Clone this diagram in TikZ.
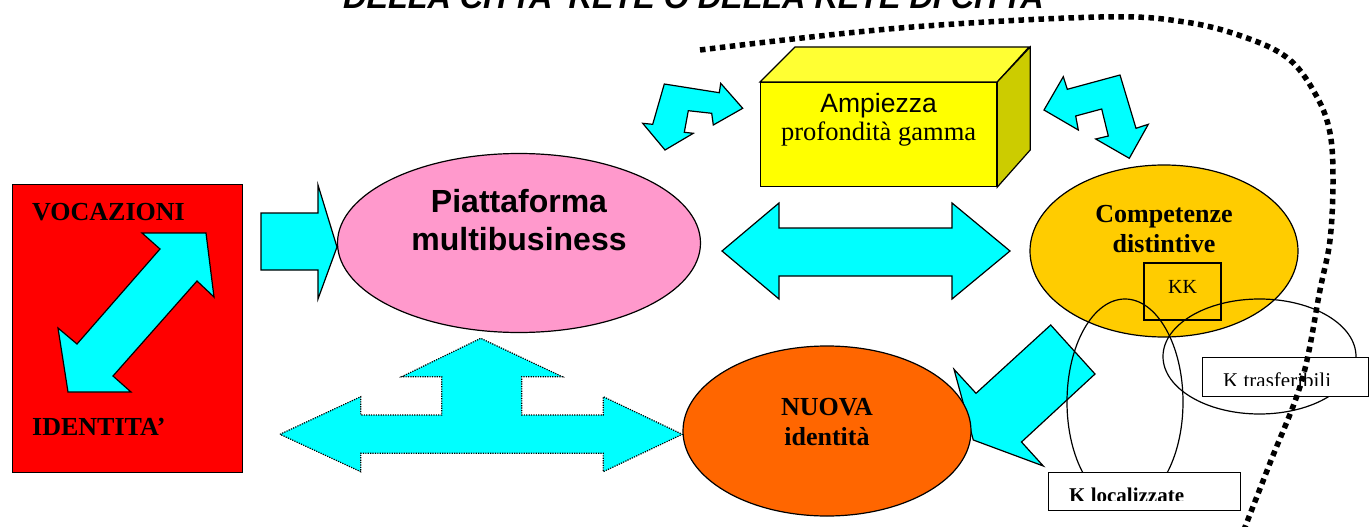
\documentclass[tikz,border=0pt]{standalone}
\usepackage{fontspec}
\setmainfont{Liberation Serif}
\setsansfont{Liberation Sans}
\usetikzlibrary{shapes.geometric}

\definecolor{ciano}{HTML}{00FFFF}
\definecolor{rosa}{HTML}{FF99CC}
\definecolor{oro}{HTML}{FFCC00}
\definecolor{arancio}{HTML}{FF6600}
\definecolor{giallo}{HTML}{FFFF00}
\definecolor{giallochiaro}{HTML}{FFFF33}
\definecolor{giallocupo}{HTML}{CCCC00}

\tikzset{
  freccia/.style={fill=ciano, draw=black, line width=1.2pt},
  bolla/.style={ellipse, draw=black, line width=1.2pt, inner sep=0pt},
  scritta/.style={align=center, inner sep=0pt, font=\fontsize{26}{30}\selectfont\bfseries},
  kbox/.style={draw=black, line width=1.2pt, fill=white, inner sep=0pt, anchor=north west},
}

\begin{document}
\begin{tikzpicture}[x=1pt, y=-1pt]
  % 绘制边界
  \clip (0,0) rectangle (1369,527);
  \fill[white] (0,0) rectangle (1369,527);
  % 绘制标题
  \node[anchor=base, inner sep=0pt, font=\fontsize{32.3}{36}\selectfont\sffamily\bfseries\itshape] (titolo) at (697,9) {DELLA CITTA' RETE O DELLA RETE DI CITTA'};
  % 绘制红色方块
  \node[draw=black, fill=red, line width=1.2pt, minimum width=230, minimum height=288, inner sep=0pt, anchor=north west] (vocaz) at (12,184) {};
  \node[scritta, anchor=base west] (voc) at (32,220) {VOCAZIONI};
  \node[scritta, anchor=base west] (ident) at (32,435) {IDENTITA'};
  \draw[freccia] (142,233) -- (206,233) -- (214,297) -- (197,281) -- (113,376) -- (131,392) -- (68,392) -- (58,328) -- (77,344) -- (160,249) -- cycle;
  \draw[freccia] (261,213) -- (318,213) -- (318,185) -- (337,247) -- (318,299) -- (318,270) -- (261,270) -- cycle;
  % 绘制椭圆
  \node[bolla, fill=rosa, minimum width=363, minimum height=179] (piatt) at (519,243) {};
  \node[align=center, inner sep=0pt, font=\fontsize{32}{38}\selectfont\sffamily\bfseries] at ([yshift=23pt]piatt.center) {Piattaforma\\multibusiness};
  \draw[freccia] (722,251) -- (779,203) -- (779,228) -- (952,228) -- (952,203) -- (1010,251) -- (952,299) -- (952,276) -- (779,276) -- (779,299) -- cycle;
  % 绘制立方体
  \node[draw=black, fill=giallo, line width=1.2pt, minimum width=236, minimum height=104, inner sep=0pt, anchor=north west] (cubo) at (760,82) {};
  \draw[fill=giallochiaro, line width=1.2pt] (cubo.north west) -- ++(35,-35) -- ++(234,0) -- (cubo.north east) -- cycle;
  \draw[fill=giallocupo, line width=1.2pt] (cubo.north east) -- ++(33,-35) -- ++(0,103) -- (cubo.south east) -- cycle;
  \node[align=center, inner sep=0pt, font=\fontsize{26.5}{28.5}\selectfont] at ([yshift=15pt]cubo.center) {{\sffamily Ampiezza}\\profondità gamma};
  \draw[freccia] (664.3,84) -- (719.3,92.7) -- (720.7,83.3) -- (742.7,108.3) -- (713.3,125) -- (711.7,113.3) -- (688.3,110.7) -- (684.3,132.3) -- (693.3,133.3) -- (665,150) -- (642.7,123.3) -- (652.7,124.3) -- cycle;
  \draw[freccia] (1044,110) -- (1063.3,76.7) -- (1067.3,89.3) -- (1120,75) -- (1136,128.3) -- (1148.3,124.3) -- (1129.3,158.3) -- (1095.7,139) -- (1108.3,136) -- (1101.7,109) -- (1075.7,116) -- (1078.3,130) -- cycle;
  % 绘制competenze
  \node[bolla, fill=oro, minimum width=268, minimum height=172] (compet) at (1164,251) {};
  \node[scritta] at ([yshift=22pt]compet.center) {Competenze\\distintive};
  \node[draw=black, line width=1.2pt, minimum width=77, minimum height=57, inner sep=0pt] (kk) at (1182.5,291.5) {};
  \node[inner sep=0pt, font=\fontsize{20}{24}\selectfont] at ([yshift=5pt]kk.center) {KK};
  \draw[freccia] (1050.7,325) -- (1095,374) -- (1021.5,442) -- (1043.3,466) -- (973.3,440) -- (954,369.3) -- (976,393.3) -- cycle;
  % 绘制nuova identità
  \node[bolla, fill=arancio, minimum width=288, minimum height=170] (nuova) at (827,431) {};
  \node[scritta] at ([yshift=9pt]nuova.center) {NUOVA\\identità};
  \draw[fill=ciano, draw=black, line width=1.2pt, dash pattern=on 1.2pt off 1.2pt] (280,434.3) -- (360.7,396.7) -- (360.7,415) -- (441.7,415) -- (441.7,376.7) -- (401.7,376.7) -- (480.7,338.3) -- (562.3,376.7) -- (521.7,376.7) -- (521.7,415) -- (603.3,415) -- (603.3,396.7) -- (682.3,434.3) -- (603.3,471.7) -- (603.3,453.3) -- (360.7,453.3) -- (360.7,471.7) -- cycle;
  % 绘制K
  \node[bolla, minimum width=116, minimum height=206] (eloc) at (1125,402) {};
  \node[bolla, minimum width=193, minimum height=115] (etras) at (1259.5,356.5) {};
  \node[kbox, minimum width=192, minimum height=38] (kloc) at (1048,472) {};
  \node[kbox, minimum width=166, minimum height=39] (ktras) at (1202,357) {};
  \begin{scope}
    \clip (1048,472) rectangle (1240,500);
    \node[anchor=base west, inner sep=0pt, font=\fontsize{21}{24}\selectfont\bfseries] (tloc) at (1069,502) {K localizzate};
  \end{scope}
  \begin{scope}
    \clip (1202,357) rectangle (1368,385);
    \node[anchor=base west, inner sep=0pt, font=\fontsize{21}{24}\selectfont] (ttras) at (1223,387) {K trasferibili};
  \end{scope}
  % 绘制虚线
  \draw[line width=5.5pt, dash pattern=on 5.5pt off 4.5pt] plot[smooth, tension=0.6] coordinates {(700,50) (900,28) (1100,17) (1185,22) (1247,38) (1290,60) (1317,97) (1330,133) (1333,180) (1330,240) (1320,290) (1302,380) (1270,463) (1238,545)};
\end{tikzpicture}
\end{document}
